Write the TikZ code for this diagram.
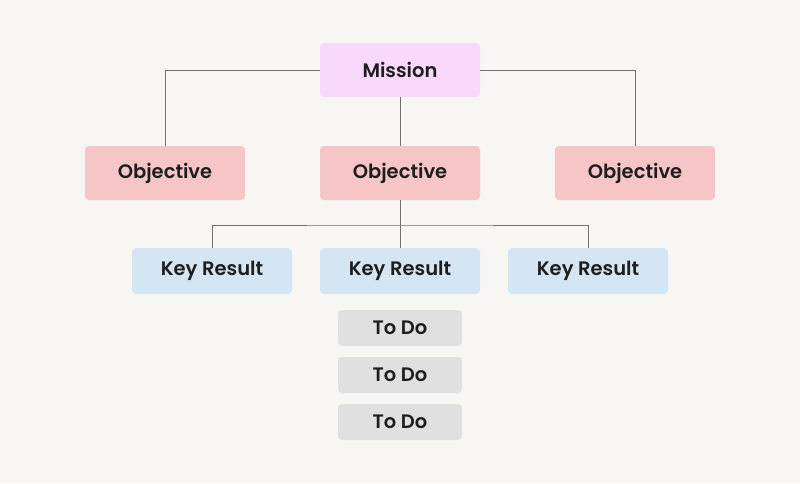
\documentclass[tikz,border=0pt]{standalone}
\usepackage{fontspec}
\setmainfont{Poppins}[BoldFont={Poppins SemiBold}]
\usetikzlibrary{positioning}

\definecolor{bgpaper}{HTML}{F7F6F2}
\definecolor{missionfill}{HTML}{F8D8FB}
\definecolor{objfill}{HTML}{F6C6C6}
\definecolor{krfill}{HTML}{D4E6F4}
\definecolor{todofill}{HTML}{E0E0E0}
\definecolor{linkgray}{HTML}{707070}
\definecolor{inkdark}{HTML}{1E1E1E}

\tikzset{
  box/.style={rounded corners=4pt, text=inkdark, font=\fontsize{19.5}{22}\selectfont\bfseries, inner sep=0pt},
  missionbox/.style={box, fill=missionfill, minimum width=160pt, minimum height=54pt},
  objbox/.style={box, fill=objfill, minimum width=160pt, minimum height=54pt},
  krbox/.style={box, fill=krfill, minimum width=160pt, minimum height=46pt},
  todobox/.style={box, fill=todofill, minimum width=124pt, minimum height=36pt},
  link/.style={draw=linkgray, line width=0.9pt}
}

\begin{document}
\begin{tikzpicture}[x=1pt, y=-1pt]
  \fill[bgpaper] (0,0) rectangle (800,483);
  \useasboundingbox (0,0) rectangle (800,483);

  \node[missionbox] (mission) at (400,70) {Mission};
  \node[objbox] (obj-1) at (165,173) {Objective};
  \node[objbox] (obj-2) at (400,173) {Objective};
  \node[objbox] (obj-3) at (635,173) {Objective};
  \node[krbox] (kr-1) at (212,271) {Key Result};
  \node[krbox] (kr-2) at (400,271) {Key Result};
  \node[krbox] (kr-3) at (588,271) {Key Result};
  \node[todobox] (todo-1) at (400,328) {To Do};
  \node[todobox] (todo-2) at (400,375) {To Do};
  \node[todobox] (todo-3) at (400,422) {To Do};
  \coordinate (fork) at (400,225);

  \path[link]
  (mission.west) -| (obj-1.north)
  (mission.east) -| (obj-3.north)
  (mission.south) -- (obj-2.north)
  (obj-2.south) -- (kr-2.north)
  (kr-1.north) |- (fork) -| (kr-3.north);
\end{tikzpicture}
\end{document}
